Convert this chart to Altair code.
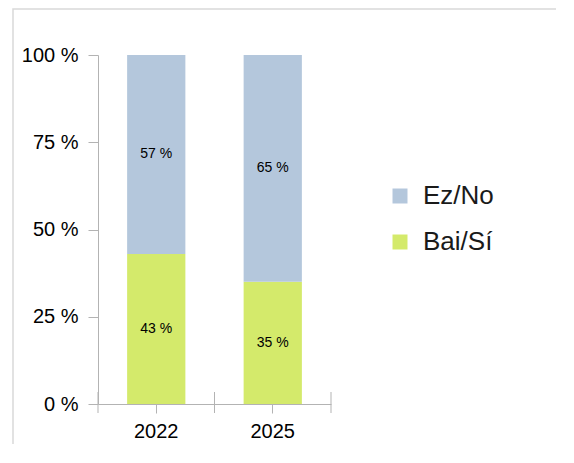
import altair as alt
import pandas as pd

years = ["2022", "2022", "2025", "2025"]
answers = ["Bai/Sí", "Ez/No", "Bai/Sí", "Ez/No"]
values = [43, 57, 35, 65]
stack_order = [0, 1, 0, 1]
year_categories = ["2022", "2025"]

series_domain = ["Ez/No", "Bai/Sí"]
series_colors = ["#b4c7dc", "#d4ea6b"]
y_ticks = [0, 25, 50, 75, 100]

df = pd.DataFrame({"year": years, "answer": answers, "value": values, "ord": stack_order})
cats = pd.DataFrame({"year": year_categories})

FONT = "Liberation Sans"
GRAY = "#b3b3b3"
W, H = 233, 349
HALF_STEP = W / 4

frame = alt.Chart(pd.DataFrame({"a": [0]})).mark_rect(
    fillOpacity=0, stroke="#d9d9d9", strokeWidth=1.5
).encode(
    x=alt.value(-85), x2=alt.value(1000), y=alt.value(-46), y2=alt.value(1000)
)

xscale = alt.Scale(paddingInner=0.5, paddingOuter=0.25)

bars = alt.Chart(df).mark_bar().encode(
    x=alt.X("year:N", scale=xscale, title=None,
            axis=alt.Axis(labelAngle=0, labelFontSize=20, labelColor="black", labelFont=FONT,
                          tickSize=9, tickColor=GRAY, domainColor=GRAY,
                          labelPadding=8)),
    y=alt.Y("value:Q", stack="zero", scale=alt.Scale(domain=[0, 100]), title=None,
            axis=alt.Axis(values=y_ticks, labelExpr="datum.label + ' %'", labelFontSize=20,
                          labelColor="black", labelFont=FONT, tickSize=10, tickColor=GRAY,
                          domainColor=GRAY, grid=False, labelPadding=10)),
    color=alt.Color("answer:N", scale=alt.Scale(domain=series_domain, range=series_colors),
                    legend=alt.Legend(title=None, orient="none", legendX=289, legendY=128,
                                      symbolType="square", symbolSize=225, symbolStrokeWidth=0,
                                      labelFontSize=26, labelFont=FONT, labelColor="#1a1a1a",
                                      rowPadding=20, labelOffset=10)),
    order=alt.Order("ord:Q"),
)

def boundary(offset):
    return alt.Chart(cats).mark_rule(color=GRAY, strokeWidth=1, xOffset=offset).encode(
        x=alt.X("year:N"), y=alt.value(H - 12), y2=alt.value(H + 9)
    )

labels = alt.Chart(df).transform_stack(
    stack="value", groupby=["year"], as_=["v0", "v1"], sort=[alt.SortField("ord")]
).transform_calculate(
    mid="(datum.v0 + datum.v1) / 2", txt="datum.value + ' %'"
).mark_text(fontSize=14, font=FONT, color="black").encode(
    x=alt.X("year:N"),
    y=alt.Y("mid:Q"),
    text="txt:N",
)

chart = alt.layer(frame, bars, boundary(-HALF_STEP), boundary(HALF_STEP), labels).properties(
    width=W, height=H,
    autosize=alt.AutoSizeParams(type="none"),
    padding={"left": 90, "top": 47, "right": 225, "bottom": 40},
).configure_view(stroke=None)

chart.save("out.html", embed_options={"renderer": "svg", "actions": False})
